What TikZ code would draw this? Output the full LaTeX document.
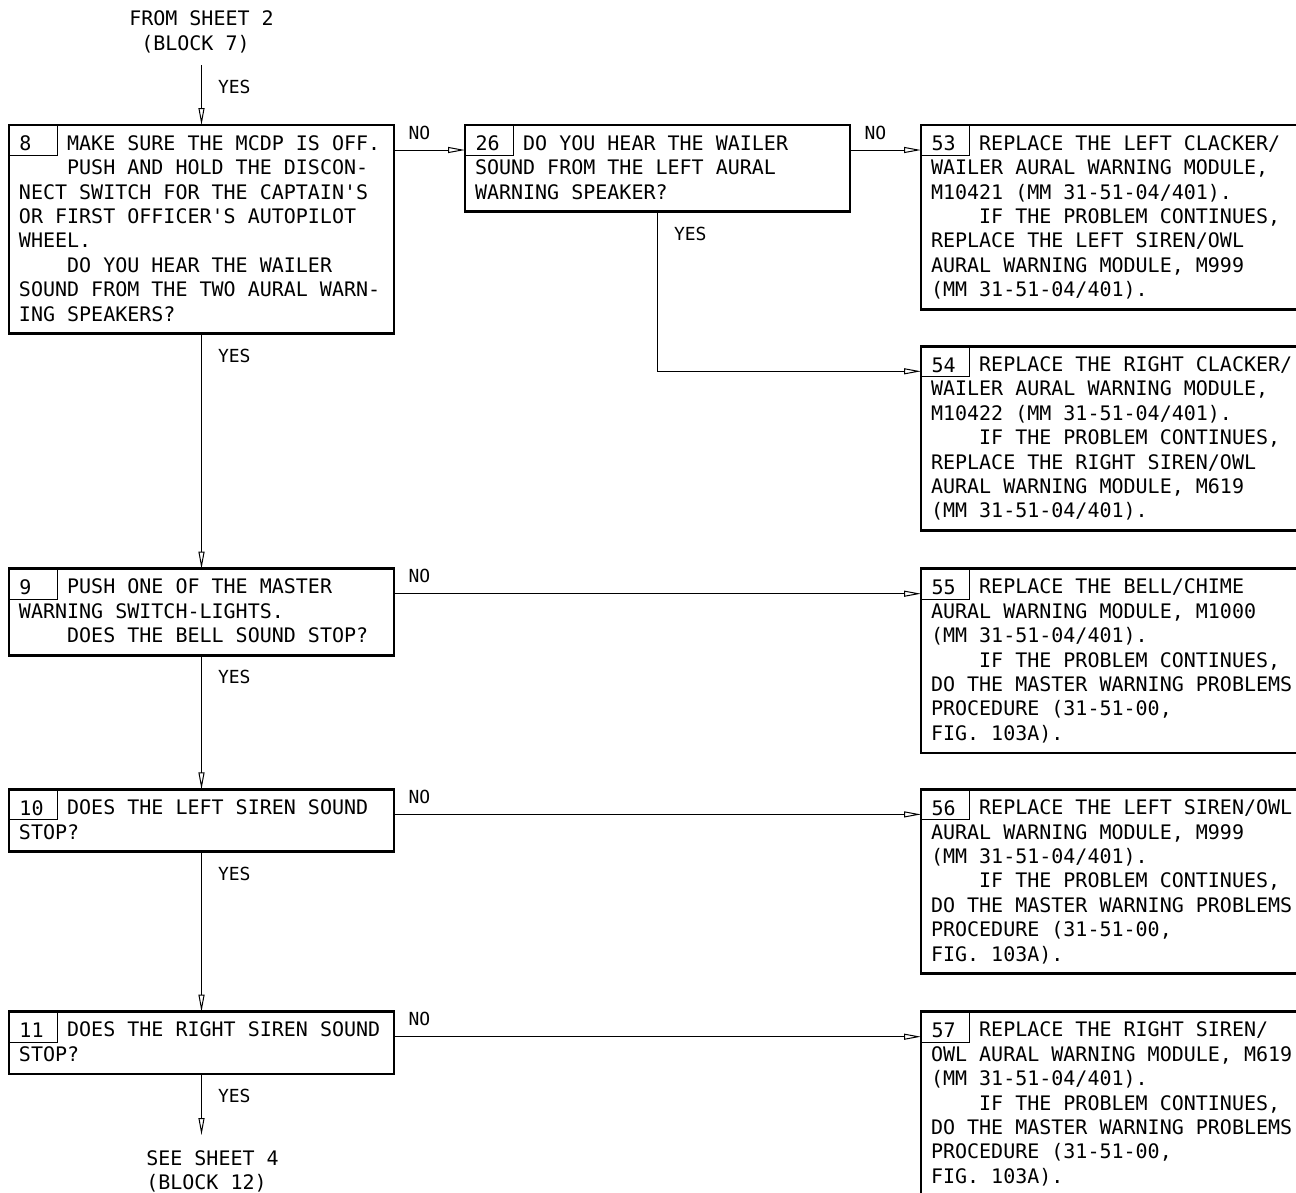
\documentclass[tikz,border=0pt]{standalone}
\usepackage{fontspec}
\setmonofont{DejaVu Sans Mono}
\usetikzlibrary{positioning, arrows.meta}
\newcommand{\fcText}{\ttfamily\fontsize{20pt}{24.4pt}\selectfont}
\newcommand{\fcLabel}{\ttfamily\fontsize{18pt}{22pt}\selectfont}
\newcommand{\fcInd}{\hphantom{0000}}
\tikzset{
    fcBox/.style={
        draw,
        line width=2.8pt,
        text width=365pt,
        inner xsep=10pt,
        inner ysep=6.7pt,
        outer sep=0pt,
        align=flush left,
        font=\fcText,
        execute at begin node={\rule{0pt}{18.5pt}},
        execute at end node={\rule[-6pt]{0pt}{0pt}}
    },
    fcNum/.style={
        draw,
        line width=1pt,
        text width=28pt,
        inner xsep=10pt,
        inner ysep=0pt,
        minimum height=30pt,
        text height=20.4pt,
        text depth=0pt,
        align=flush left,
        font=\fcText,
        anchor=north west
    },
    fcNote/.style={align=left, font=\fcText, inner sep=0pt},
    % Labels on the connectors
    fcYes/.style={font=\fcLabel, inner sep=0pt, anchor=north west, xshift=16pt, yshift=-14.5pt, pos=0},
    fcNo/.style={font=\fcLabel, inner sep=0pt, anchor=south west, xshift=14pt, yshift=10pt, pos=0},
    fcArrow/.style={-{Triangle[open, length=17pt, width=6pt]}, line width=1pt}
}

\begin{document}
\begin{tikzpicture}
\useasboundingbox (0,0) rectangle (1296pt,-1192pt);

% left column
\node[fcBox, anchor=north west] (b8) at (9pt,-125pt) {\fcInd MAKE SURE THE MCDP IS OFF.\\
\fcInd PUSH AND HOLD THE DISCON-\\
NECT SWITCH FOR THE CAPTAIN'S\\
OR FIRST OFFICER'S AUTOPILOT\\
WHEEL.\\
\fcInd DO YOU HEAR THE WAILER\\
SOUND FROM THE TWO AURAL WARN-\\
ING SPEAKERS?};
\node[fcBox, below=235pt of b8] (b9) {\fcInd PUSH ONE OF THE MASTER\\
WARNING SWITCH-LIGHTS.\\
\fcInd DOES THE BELL SOUND STOP?};
\node[fcBox, below=134pt of b9] (b10) {\fcInd DOES THE LEFT SIREN SOUND\\
STOP?};
\node[fcBox, below=160pt of b10] (b11) {\fcInd DOES THE RIGHT SIREN SOUND\\
STOP?};

% middle and right column
\node[fcBox, right=71pt of b8.north east, anchor=north west] (b26) {\fcInd DO YOU HEAR THE WAILER\\
SOUND FROM THE LEFT AURAL\\
WARNING SPEAKER?};
\node[fcBox, right=71pt of b26.north east, anchor=north west] (b53) {\fcInd REPLACE THE LEFT CLACKER/\\
WAILER AURAL WARNING MODULE,\\
M10421 (MM 31-51-04/401).\\
\fcInd IF THE PROBLEM CONTINUES,\\
REPLACE THE LEFT SIREN/OWL\\
AURAL WARNING MODULE, M999\\
(MM 31-51-04/401).};
\node[fcBox, below=37pt of b53.south west, anchor=north west] (b54) {\fcInd REPLACE THE RIGHT CLACKER/\\
WAILER AURAL WARNING MODULE,\\
M10422 (MM 31-51-04/401).\\
\fcInd IF THE PROBLEM CONTINUES,\\
REPLACE THE RIGHT SIREN/OWL\\
AURAL WARNING MODULE, M619\\
(MM 31-51-04/401).};
\node[fcBox, anchor=north west] (b55) at (b53.west |- b9.north) {\fcInd REPLACE THE BELL/CHIME\\
AURAL WARNING MODULE, M1000\\
(MM 31-51-04/401).\\
\fcInd IF THE PROBLEM CONTINUES,\\
DO THE MASTER WARNING PROBLEMS\\
PROCEDURE (31-51-00,\\
FIG. 103A).};
\node[fcBox, anchor=north west] (b56) at (b53.west |- b10.north) {\fcInd REPLACE THE LEFT SIREN/OWL\\
AURAL WARNING MODULE, M999\\
(MM 31-51-04/401).\\
\fcInd IF THE PROBLEM CONTINUES,\\
DO THE MASTER WARNING PROBLEMS\\
PROCEDURE (31-51-00,\\
FIG. 103A).};
\node[fcBox, anchor=north west] (b57) at (b53.west |- b11.north) {\fcInd REPLACE THE RIGHT SIREN/\\
OWL AURAL WARNING MODULE, M619\\
(MM 31-51-04/401).\\
\fcInd IF THE PROBLEM CONTINUES,\\
DO THE MASTER WARNING PROBLEMS\\
PROCEDURE (31-51-00,\\
FIG. 103A).};

% block numbers
\node[fcNum] (n8) at (b8.north west) {8};
\node[fcNum] (n9) at (b9.north west) {9};
\node[fcNum] (n10) at (b10.north west) {10};
\node[fcNum] (n11) at (b11.north west) {11};
\node[fcNum] (n26) at (b26.north west) {26};
\node[fcNum] (n53) at (b53.north west) {53};
\node[fcNum] (n54) at (b54.north west) {54};
\node[fcNum] (n55) at (b55.north west) {55};
\node[fcNum] (n56) at (b56.north west) {56};
\node[fcNum] (n57) at (b57.north west) {57};

% sheet references
\coordinate[above=60pt of b8.north] (s2out);
\node[fcNote, above=12pt of s2out] (from2) {FROM SHEET 2\\\hphantom{0}(BLOCK 7)};
\coordinate[below=61pt of b11.south] (s4in);
\node[fcNote, below=15pt of s4in, xshift=11pt] (see4) {SEE SHEET 4\\(BLOCK 12)};

\draw[fcArrow] (s2out) -- node[fcYes] {YES} (b8);
\draw[fcArrow] (b8) -- node[fcYes] {YES} (b9);
\draw[fcArrow] (b9) -- node[fcYes] {YES} (b10);
\draw[fcArrow] (b10) -- node[fcYes] {YES} (b11);
\draw[fcArrow] (b11) -- node[fcYes] {YES} (s4in);
\draw[fcArrow] (b26) |- node[fcYes] {YES} ([yshift=-25pt]b54.north west);

\draw[fcArrow] ([yshift=-25pt]b8.north east) -- node[fcNo] {NO} ([yshift=-25pt]b26.north west);
\draw[fcArrow] ([yshift=-25pt]b26.north east) -- node[fcNo] {NO} ([yshift=-25pt]b53.north west);
\draw[fcArrow] ([yshift=-25pt]b9.north east) -- node[fcNo] {NO} ([yshift=-25pt]b55.north west);
\draw[fcArrow] ([yshift=-25pt]b10.north east) -- node[fcNo] {NO} ([yshift=-25pt]b56.north west);
\draw[fcArrow] ([yshift=-25pt]b11.north east) -- node[fcNo] {NO} ([yshift=-25pt]b57.north west);
\end{tikzpicture}
\end{document}
